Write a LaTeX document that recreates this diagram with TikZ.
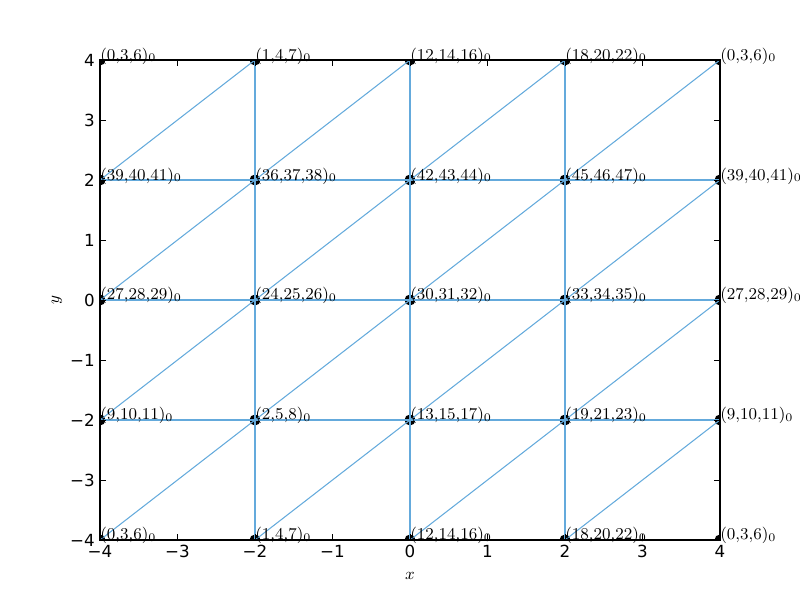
\RequirePackage{fix-cm}
\documentclass[tikz,border=0pt]{standalone}
\usepackage{fontspec}
\usepackage{amsmath}
\newfontfamily\ticksfont{DejaVu Sans}
\definecolor{edgeblue}{RGB}{100,170,220}
\scriptspace=0pt

\begin{document}
\begin{tikzpicture}[
x=1.55cm, y=1.2cm,
every node/.style={font=\fontsize{9.4}{12}\selectfont},
vert/.style={inner sep=0pt, anchor=base west},
edge/.style={draw=edgeblue, line width=0.6pt},
tickmark/.style={line width=0.4pt},
ticklabel/.style={inner sep=0pt, font=\fontsize{9.5}{11}\selectfont\ticksfont}
]
\useasboundingbox (-5.2903,-5) rectangle (5.0323,5);

% grid points: column a..e is x=-4..4, row 0..4 is y=-4..4
\coordinate (a0) at (-4,-4); \coordinate (b0) at (-2,-4); \coordinate (c0) at (0,-4); \coordinate (d0) at (2,-4); \coordinate (e0) at (4,-4);
\coordinate (a1) at (-4,-2); \coordinate (b1) at (-2,-2); \coordinate (c1) at (0,-2); \coordinate (d1) at (2,-2); \coordinate (e1) at (4,-2);
\coordinate (a2) at (-4, 0); \coordinate (b2) at (-2, 0); \coordinate (c2) at (0, 0); \coordinate (d2) at (2, 0); \coordinate (e2) at (4, 0);
\coordinate (a3) at (-4, 2); \coordinate (b3) at (-2, 2); \coordinate (c3) at (0, 2); \coordinate (d3) at (2, 2); \coordinate (e3) at (4, 2);
\coordinate (a4) at (-4, 4); \coordinate (b4) at (-2, 4); \coordinate (c4) at (0, 4); \coordinate (d4) at (2, 4); \coordinate (e4) at (4, 4);

% dots, cut off by the axes box
\begin{scope}
\clip (a0) rectangle (e4);
\foreach \p in {a0,b0,c0,d0,e0,a1,b1,c1,d1,e1,a2,b2,c2,d2,e2,a3,b3,c3,d3,e3,a4,b4,c4,d4,e4}
  \fill[black] (\p) circle (0.11cm);
\end{scope}

% edges
\draw[edge] (a1) -- (e1);
\draw[edge] (a2) -- (e2);
\draw[edge] (a3) -- (e3);
\draw[edge] (b0) -- (b4);
\draw[edge] (c0) -- (c4);
\draw[edge] (d0) -- (d4);
\draw[edge] (a0) -- (b1) -- (c2) -- (d3) -- (e4);
\draw[edge] (b0) -- (c1) -- (d2) -- (e3);
\draw[edge] (c0) -- (d1) -- (e2);
\draw[edge] (d0) -- (e1);
\draw[edge] (a1) -- (b2) -- (c3) -- (d4);
\draw[edge] (a2) -- (b3) -- (c4);
\draw[edge] (a3) -- (b4);

% vertex labels
\node[vert] (la4) at (a4) {$(0{,}3{,}6)_0$};
\node[vert] (lb4) at (b4) {$(1{,}4{,}7)_0$};
\node[vert] (lc4) at (c4) {$(12{,}14{,}16)_0$};
\node[vert] (ld4) at (d4) {$(18{,}20{,}22)_0$};
\node[vert] (le4) at (e4) {$(0{,}3{,}6)_0$};
\node[vert] (la3) at (a3) {$(39{,}40{,}41)_0$};
\node[vert] (lb3) at (b3) {$(36{,}37{,}38)_0$};
\node[vert] (lc3) at (c3) {$(42{,}43{,}44)_0$};
\node[vert] (ld3) at (d3) {$(45{,}46{,}47)_0$};
\node[vert] (le3) at (e3) {$(39{,}40{,}41)_0$};
\node[vert] (la2) at (a2) {$(27{,}28{,}29)_0$};
\node[vert] (lb2) at (b2) {$(24{,}25{,}26)_0$};
\node[vert] (lc2) at (c2) {$(30{,}31{,}32)_0$};
\node[vert] (ld2) at (d2) {$(33{,}34{,}35)_0$};
\node[vert] (le2) at (e2) {$(27{,}28{,}29)_0$};
\node[vert] (la1) at (a1) {$(9{,}10{,}11)_0$};
\node[vert] (lb1) at (b1) {$(2{,}5{,}8)_0$};
\node[vert] (lc1) at (c1) {$(13{,}15{,}17)_0$};
\node[vert] (ld1) at (d1) {$(19{,}21{,}23)_0$};
\node[vert] (le1) at (e1) {$(9{,}10{,}11)_0$};
\node[vert] (la0) at (a0) {$(0{,}3{,}6)_0$};
\node[vert] (lb0) at (b0) {$(1{,}4{,}7)_0$};
\node[vert] (lc0) at (c0) {$(12{,}14{,}16)_0$};
\node[vert] (ld0) at (d0) {$(18{,}20{,}22)_0$};
\node[vert] (le0) at (e0) {$(0{,}3{,}6)_0$};

% axes box, ticks and tick labels
\draw[line width=0.8pt] (a0) rectangle (e4);
\foreach \t/\s in {-4/−4,-3/−3,-2/−2,-1/−1,0/0,1/1,2/2,3/3,4/4} {
  \draw[tickmark] (\t,-4) -- ++(0,0.112cm);
  \draw[tickmark] (\t,4) -- ++(0,-0.112cm);
  \draw[tickmark] (-4,\t) -- ++(0.112cm,0);
  \draw[tickmark] (4,\t) -- ++(-0.112cm,0);
  \node[ticklabel, anchor=north] at ([yshift=-0.1cm]\t,-4) {\s};
  \node[ticklabel, anchor=east] at ([xshift=-0.1cm]-4,\t) {\s};
}
\node (xlabel) at (0,-4.6) {$x$};
\node[rotate=90] (ylabel) at (-4.555,0) {$y$};
\end{tikzpicture}
\end{document}
